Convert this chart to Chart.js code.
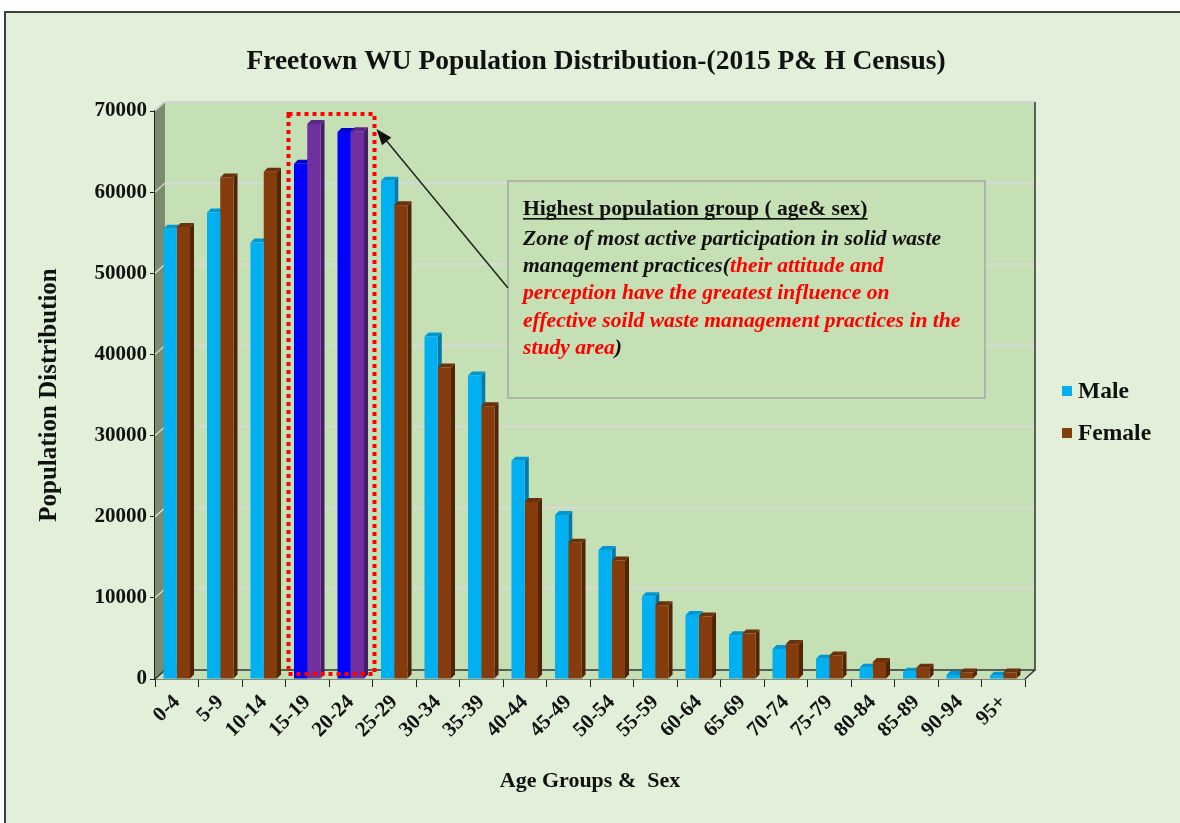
<!DOCTYPE html>
<html>
<head>
<meta charset="utf-8">
<title>Freetown WU Population Distribution</title>
<script src="https://cdn.jsdelivr.net/npm/chart.js@4.4.1/dist/chart.umd.min.js"></script>
<style>
    html, body { margin: 0; padding: 0; background: #ffffff; }
    #frame {
        position: absolute; left: 4px; top: 11px;
        width: 1180px; height: 820px;
        background: #e2efd9;
        border-top: 2px solid #404040;
        border-left: 2px solid #404040;
    }
    #wrap { position: absolute; left: 0; top: 0; width: 1180px; height: 823px; }
</style>
</head>
<body>
<div id="frame"></div>
<div id="wrap"><canvas id="popChart" width="1180" height="823"></canvas></div>
<script>
// Data
const ageGroups = ["0-4", "5-9", "10-14", "15-19", "20-24", "25-29", "30-34", "35-39", "40-44", "45-49",
    "50-54", "55-59", "60-64", "65-69", "70-74", "75-79", "80-84", "85-89", "90-94", "95+"];
const maleValues = [55500, 57500, 53800, 63500, 67400, 61400, 42200, 37400, 26900, 20200,
    15900, 10200, 7900, 5400, 3700, 2500, 1400, 900, 500, 400];
const femaleValues = [55700, 61800, 62500, 68400, 67500, 58400, 38400, 33600, 21800, 16800,
    14600, 9100, 7700, 5600, 4300, 2900, 2100, 1400, 800, 800];
const yTicks = [0, 10000, 20000, 30000, 40000, 50000, 60000, 70000];
const highlightGroups = ["15-19", "20-24"];

const titleText = "Freetown WU Population Distribution-(2015 P& H Census)";
const serif = "'Liberation Serif', 'Times New Roman', serif";

// colours: front, top cap, side
const palette = {
    male:    { front: "#00b0f0", cap: "#0098d4", side: "#0078aa" },
    female:  { front: "#843c0c", cap: "#6c300a", side: "#522406" },
    maleHi:  { front: "#0000ff", cap: "#0000cc", side: "#0000a0" },
    femaleHi:{ front: "#7030a0", cap: "#5c2688", side: "#471d6a" }
};

const isHi = (i) => highlightGroups.includes(ageGroups[i]);
const maleColors = ageGroups.map((g, i) => isHi(i) ? palette.maleHi : palette.male);
const femaleColors = ageGroups.map((g, i) => isHi(i) ? palette.femaleHi : palette.female);

// wall depth and bar depth (pseudo 3D)
const wallDX = 10, wallDY = 9;
const barD = 4;

const backdrop = {
    id: "backdrop",
    beforeDatasetsDraw(chart) {
        const ctx = chart.ctx;
        const a = chart.chartArea;
        const y = chart.scales.y;
        const L = a.left, R = a.right, T = a.top, B = a.bottom;
        ctx.save();
        // back wall
        ctx.fillStyle = "#c5e0b4";
        ctx.fillRect(L + wallDX, T - wallDY, R - L, B - T);
        // floor
        ctx.beginPath();
        ctx.moveTo(L, B); ctx.lineTo(L + wallDX, B - wallDY);
        ctx.lineTo(R + wallDX, B - wallDY); ctx.lineTo(R, B); ctx.closePath();
        ctx.fill();
        // side wall
        ctx.fillStyle = "#7c8b6c";
        ctx.beginPath();
        ctx.moveTo(L, T); ctx.lineTo(L + wallDX, T - wallDY);
        ctx.lineTo(L + wallDX, B - wallDY); ctx.lineTo(L, B); ctx.closePath();
        ctx.fill();
        ctx.strokeStyle = "#222";
        ctx.lineWidth = 1.2;
        ctx.beginPath();
        ctx.moveTo(L, T); ctx.lineTo(L + wallDX, T - wallDY);
        ctx.stroke();
        // gridlines on back wall
        yTicks.forEach(v => {
            if (v === 0) return;
            const py = y.getPixelForValue(v);
            ctx.strokeStyle = "#d9d9d9";
            ctx.lineWidth = 2;
            ctx.beginPath();
            ctx.moveTo(L + wallDX, py - wallDY); ctx.lineTo(R + wallDX, py - wallDY);
            ctx.stroke();
            ctx.strokeStyle = "#e6e6e6";
            ctx.lineWidth = 1.2;
            ctx.beginPath();
            ctx.moveTo(L, py); ctx.lineTo(L + wallDX, py - wallDY);
            ctx.stroke();
        });
        // top edge, right edge, floor lines
        ctx.strokeStyle = "#d0d0d0";
        ctx.lineWidth = 1.5;
        ctx.beginPath();
        ctx.moveTo(L + wallDX, T - wallDY); ctx.lineTo(R + wallDX, T - wallDY);
        ctx.stroke();
        ctx.strokeStyle = "#333";
        ctx.lineWidth = 1.5;
        ctx.beginPath();
        ctx.moveTo(R + wallDX, T - wallDY); ctx.lineTo(R + wallDX, B - wallDY);
        ctx.lineTo(L + wallDX, B - wallDY); ctx.lineTo(L, B);
        ctx.moveTo(R + wallDX, B - wallDY); ctx.lineTo(R, B);
        ctx.stroke();

        // bar tops and sides, drawn behind the front faces
        chart.data.datasets.forEach((ds, di) => {
            const meta = chart.getDatasetMeta(di);
            meta.data.forEach((bar, i) => {
                const c = ds.shades[i];
                const l = bar.x - bar.width / 2, r = bar.x + bar.width / 2;
                const t = bar.y, b = bar.base;
                ctx.fillStyle = c.side;
                ctx.beginPath();
                ctx.moveTo(r, t); ctx.lineTo(r + barD, t - barD);
                ctx.lineTo(r + barD, b - barD); ctx.lineTo(r, b); ctx.closePath();
                ctx.fill();
                ctx.fillStyle = c.cap;
                ctx.beginPath();
                ctx.moveTo(l, t); ctx.lineTo(l + barD, t - barD);
                ctx.lineTo(r + barD, t - barD); ctx.lineTo(r, t); ctx.closePath();
                ctx.fill();
            });
        });
        ctx.restore();
    }
};

const overlay = {
    id: "overlay",
    afterDatasetsDraw(chart) {
        const ctx = chart.ctx;
        const a = chart.chartArea;
        const x = chart.scales.x;
        const catW = (a.right - a.left) / ageGroups.length;
        const i0 = ageGroups.indexOf(highlightGroups[0]);
        const i1 = ageGroups.indexOf(highlightGroups[highlightGroups.length - 1]);
        const left = x.getPixelForValue(i0) - catW / 2 + 3;
        const right = x.getPixelForValue(i1) + catW / 2 + 2;
        const top = a.top + 3, bottom = a.bottom - 5;
        ctx.save();
        // red dotted highlight box
        ctx.strokeStyle = "#ff0000";
        ctx.lineWidth = 4;
        ctx.setLineDash([4, 4]);
        ctx.strokeRect(left, top, right - left, bottom - top);
        ctx.setLineDash([]);

        // annotation box
        const bx = 508, by = 181, bw = 477, bh = 217;
        ctx.fillStyle = "#c5e0b4";
        ctx.fillRect(bx, by, bw, bh);
        ctx.strokeStyle = "#a6a6a6";
        ctx.lineWidth = 1.5;
        ctx.strokeRect(bx, by, bw, bh);

        // arrow from box to the highlight
        const tipX = right + 2, tipY = top + 15;
        const fromX = bx, fromY = 288;
        ctx.strokeStyle = "#222";
        ctx.lineWidth = 1.5;
        ctx.beginPath();
        ctx.moveTo(fromX, fromY); ctx.lineTo(tipX + 6, tipY + 7);
        ctx.stroke();
        const ang = Math.atan2(tipY - fromY, tipX - fromX);
        ctx.fillStyle = "#111";
        ctx.beginPath();
        ctx.moveTo(tipX, tipY);
        ctx.lineTo(tipX - 16 * Math.cos(ang) + 6 * Math.sin(ang), tipY - 16 * Math.sin(ang) - 6 * Math.cos(ang));
        ctx.lineTo(tipX - 16 * Math.cos(ang) - 6 * Math.sin(ang), tipY - 16 * Math.sin(ang) + 6 * Math.cos(ang));
        ctx.closePath();
        ctx.fill();

        // annotation text
        const tx = 523;
        ctx.textBaseline = "alphabetic";
        ctx.textAlign = "left";
        ctx.fillStyle = "#111";
        ctx.font = "bold 21.6px " + serif;
        const head = "Highest population group ( age& sex)";
        ctx.fillText(head, tx, 215);
        const hw = ctx.measureText(head).width;
        ctx.fillRect(tx, 218, hw, 1.6);

        const lines = [
            [["Zone of most active participation in solid waste", "#111"]],
            [["management practices(", "#111"], ["their attitude and", "#ff0000"]],
            [["perception have the greatest influence on", "#ff0000"]],
            [["effective soild waste management practices in the", "#ff0000"]],
            [["study area", "#ff0000"], [")", "#111"]]
        ];
        ctx.font = "italic bold 21.6px " + serif;
        lines.forEach((segs, li) => {
            let cx = tx;
            const base = 245 + li * 27.2;
            segs.forEach(([txt, col]) => {
                ctx.fillStyle = col;
                ctx.fillText(txt, cx, base);
                cx += ctx.measureText(txt).width;
            });
        });
        ctx.restore();
    },
    afterDraw(chart) {
        const ctx = chart.ctx;
        const a = chart.chartArea;
        ctx.save();
        // chart title
        ctx.font = "bold 27.5px " + serif;
        ctx.fillStyle = "#111";
        ctx.textAlign = "center";
        ctx.textBaseline = "middle";
        ctx.fillText(titleText, 596, 62);

        // legend on the right
        const lx = a.right + 37;
        const mid = (a.top + a.bottom) / 2;
        ctx.font = "bold 23.5px " + serif;
        ctx.textAlign = "left";
        chart.data.datasets.forEach((ds, di) => {
            const cy = mid - 4 + di * 42;
            ctx.fillStyle = ds.legendColor;
            ctx.fillRect(lx, cy - 5, 10, 10);
            ctx.fillStyle = "#111";
            ctx.fillText(ds.label, lx + 16, cy + 1);
        });
        ctx.restore();
    }
};

new Chart(document.getElementById("popChart"), {
    type: "bar",
    data: {
        labels: ageGroups,
        datasets: [{
            label: "Male",
            data: maleValues,
            backgroundColor: maleColors.map(c => c.front),
            shades: maleColors,
            legendColor: palette.male.front,
            borderWidth: 0
        }, {
            label: "Female",
            data: femaleValues,
            backgroundColor: femaleColors.map(c => c.front),
            shades: femaleColors,
            legendColor: palette.female.front,
            borderWidth: 0
        }]
    },
    options: {
        responsive: false,
        animation: false,
        devicePixelRatio: 1,
        categoryPercentage: 0.61,
        barPercentage: 1.0,
        layout: { padding: { left: 0, right: 155, top: 111, bottom: 0 } },
        plugins: {
            legend: { display: false },
            tooltip: { enabled: false },
            title: { display: false }
        },
        scales: {
            x: {
                grid: { offset: true, drawOnChartArea: false, drawTicks: true, tickLength: 8, color: "#222" },
                border: { display: true, color: "#222", width: 1.5 },
                ticks: {
                    color: "#111",
                    font: { family: serif, size: 21, weight: "bold" },
                    minRotation: 45, maxRotation: 45,
                    autoSkip: false, padding: 3
                },
                title: {
                    display: true,
                    text: "Age Groups &  Sex",
                    color: "#111",
                    font: { family: serif, size: 22, weight: "bold" },
                    padding: { top: 0, bottom: 28 }
                },
                afterFit(scale) { scale.height = 823 - 679; }
            },
            y: {
                min: 0,
                max: 70000,
                grid: { drawOnChartArea: false, drawTicks: true, tickLength: 5, color: "#222" },
                border: { display: true, color: "#222", width: 1.5 },
                ticks: {
                    stepSize: 10000,
                    color: "#111",
                    padding: 3,
                    font: { family: serif, size: 21, weight: "bold" },
                    callback: (v) => String(v)
                },
                title: {
                    display: true,
                    text: "Population Distribution",
                    color: "#111",
                    font: { family: serif, size: 25, weight: "bold" },
                    padding: { top: 35, bottom: 0 }
                },
                afterFit(scale) { scale.width = 155; }
            }
        }
    },
    plugins: [backdrop, overlay]
});
</script>
</body>
</html>
